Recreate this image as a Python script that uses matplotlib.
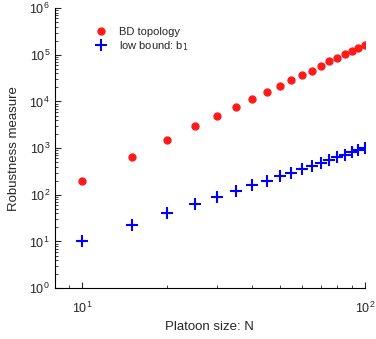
import matplotlib
matplotlib.use('Agg')
import matplotlib.pyplot as plt
from matplotlib.ticker import NullFormatter

# platoon sizes and robustness values
N = [10, 15, 20, 25, 30, 35, 40, 45, 50, 55, 60, 65, 70, 75, 80, 85, 90, 95, 100]
bd_topology = [200, 650, 1480, 2930, 5000, 7800, 11500, 16200, 21900, 29400,
               37600, 46000, 58000, 74000, 87000, 105000, 122000, 141000, 165000]
low_bound = [10, 23, 41, 64, 91, 122, 162, 202, 250, 300,
             360, 420, 490, 560, 640, 720, 810, 900, 1010]
x_ticks = [10, 100]
y_ticks = [1, 10, 100, 1e3, 1e4, 1e5, 1e6]

plt.rcParams['font.family'] = ['Liberation Sans', 'DejaVu Sans']
txt = '#262626'

fig = plt.figure(figsize=(3.76, 3.39), dpi=100)
ax = fig.add_axes([0.146, 0.150, 0.824, 0.826])

ax.plot(N, bd_topology, 'o', color='#ff1a1a', ms=5, mec='#ff1a1a', label='BD topology')
ax.plot(N, low_bound, '+', color='#0000ff', ms=8, mew=1.5, label='low bound: b$_1$')

ax.set_xscale('log')
ax.set_yscale('log')
ax.set_xticks(x_ticks)
ax.set_yticks(y_ticks)
ax.set_xlim(8.0, 100)
ax.set_ylim(1, 1e6)
ax.xaxis.set_minor_formatter(NullFormatter())
ax.yaxis.set_minor_formatter(NullFormatter())

for s in ['top', 'right']:
    ax.spines[s].set_visible(False)
ax.tick_params(which='both', direction='in', labelsize=9, colors=txt)
ax.tick_params(which='major', length=4)
ax.tick_params(which='minor', length=2)
ax.tick_params(axis='x', which='major', pad=9)

ax.set_xlabel('Platoon size: N', fontsize=9.5, color=txt, labelpad=4)
ax.set_ylabel('Robustness measure', fontsize=9.5, color=txt, labelpad=7)

ax.legend(loc='upper left', bbox_to_anchor=(0.08, 0.97), frameon=False,
          fontsize=8, handletextpad=0.6, labelspacing=0.2, labelcolor=txt)

fig.savefig('out.png', dpi=100)
